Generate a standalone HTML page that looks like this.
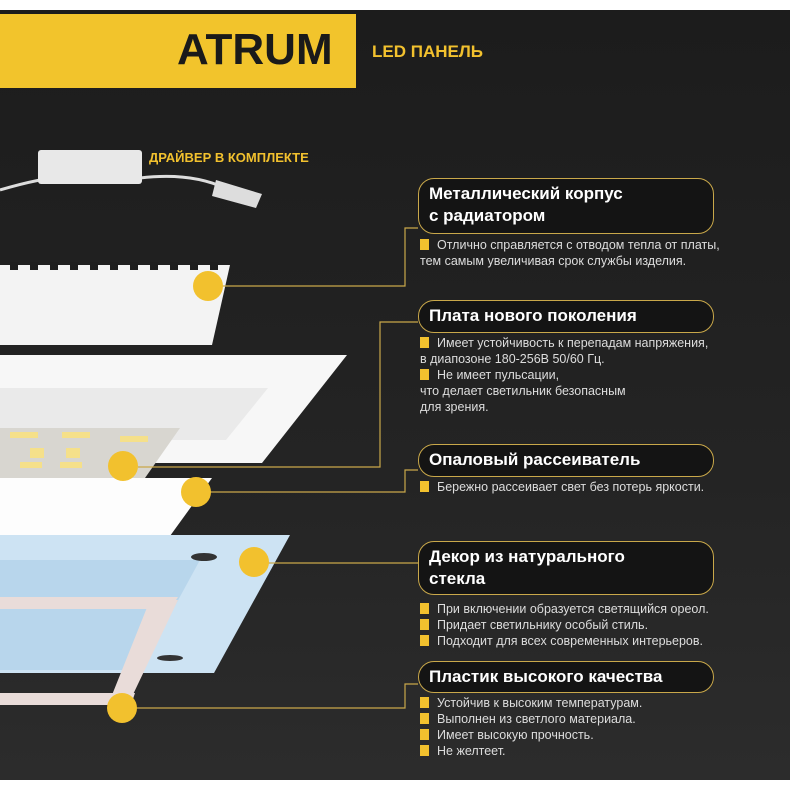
<!DOCTYPE html>
<html><head><meta charset="utf-8"><style>
body{margin:0;width:790px;height:790px;overflow:hidden;background:#fff;font-family:"Liberation Sans","DejaVu Sans",sans-serif}
.bg{position:absolute;left:0;top:10px;width:790px;height:770px;background:linear-gradient(180deg,#1c1c1c,#242424 60%,#2c2c2c)}
.box{position:absolute;left:418px;width:296px;border:1.5px solid #c9a84a;border-radius:16px;background:#141414;color:#fff;font-weight:bold;font-size:17px;line-height:22px;padding:4px 10px;box-sizing:border-box}
.t{position:absolute;left:420px;color:#ddd;font-size:12.5px;line-height:16px;white-space:nowrap}
.t i{display:inline-block;width:9px;height:11px;background:#f2c12e;margin-right:8px;vertical-align:-1px}
</style></head><body>
<div class="bg"></div>
<svg style="position:absolute;left:0;top:0" width="790" height="790">
<rect x="0" y="14" width="356" height="74" fill="#f2c42c"/>
<path d="M0,190 Q40,178 70,176 M140,178 Q190,172 225,188" stroke="#ddd" stroke-width="3" fill="none"/>
<rect x="38" y="150" width="104" height="34" rx="3" fill="#e8e8e8"/>
<path d="M216,180 l46,14 l-6,14 l-44,-12z" fill="#ddd"/>
<path d="M0,265 h230 l-18,80 h-212z" fill="#f3f3f3"/>
<g fill="#1e1e1e"><rect x="10" y="262" width="8" height="8"/><rect x="30" y="262" width="8" height="8"/><rect x="50" y="262" width="8" height="8"/><rect x="70" y="262" width="8" height="8"/><rect x="90" y="262" width="8" height="8"/><rect x="110" y="262" width="8" height="8"/><rect x="130" y="262" width="8" height="8"/><rect x="150" y="262" width="8" height="8"/><rect x="170" y="262" width="8" height="8"/><rect x="190" y="262" width="8" height="8"/><rect x="210" y="262" width="8" height="8"/></g>
<path d="M0,355 h347 l-85,108 h-262z" fill="#f7f7f7"/>
<path d="M0,388 h268 l-42,52 h-226z" fill="#eaeaea"/>
<path d="M0,428 h180 l-35,50 h-145z" fill="#d8d6d0"/>
<g fill="#f5e08a"><rect x="10" y="432" width="28" height="6"/><rect x="62" y="432" width="28" height="6"/><rect x="120" y="436" width="28" height="6"/><rect x="30" y="448" width="14" height="10"/><rect x="66" y="448" width="14" height="10"/><rect x="20" y="462" width="22" height="6"/><rect x="60" y="462" width="22" height="6"/></g>
<path d="M0,478 h212 l-42,58 h-170z" fill="#fdfdfd"/>
<path d="M0,535 h290 l-76,138 h-214z" fill="#cde3f3"/>
<path d="M0,560 h200 l-60,110 h-140z" fill="#b8d6ec"/>
<path d="M0,597 h178 l-8,12 h-170z M0,693 h135 l-4,12 h-131z M150,600 l28,0 l-50,105 l-20,0z" fill="#e9dcd9"/>
<ellipse cx="204" cy="557" rx="13" ry="4" fill="#333"/><ellipse cx="170" cy="658" rx="13" ry="3" fill="#333"/>
<g stroke="#c9a84a" stroke-width="1.2" fill="none">
<path d="M418,228 H405 V286 H222"/>
<path d="M418,322 H380 V467 H138"/>
<path d="M418,470 H405 V492 H210"/>
<path d="M418,563 H268"/>
<path d="M418,684 H405 V708 H136"/>
</g>
<g fill="#f2c12e"><circle cx="208" cy="286" r="15"/><circle cx="123" cy="466" r="15"/><circle cx="196" cy="492" r="15"/><circle cx="254" cy="562" r="15"/><circle cx="122" cy="708" r="15"/></g>
<rect x="0" y="780" width="790" height="10" fill="#fff"/>
</svg>
<div style="position:absolute;left:177px;top:25px;font-size:44px;font-weight:bold;color:#1a1a1a;letter-spacing:0px">ATRUM</div>
<div style="position:absolute;left:372px;top:42px;font-size:17px;font-weight:bold;color:#f2c12e">LED ПАНЕЛЬ</div>
<div style="position:absolute;left:149px;top:150px;font-size:13px;font-weight:bold;color:#f2c12e">ДРАЙВЕР В КОМПЛЕКТЕ</div>
<div class="box" style="top:178px;height:56px">Металлический корпус<br>с радиатором</div>
<div class="t" style="top:237px"><i></i>Отлично справляется с отводом тепла от платы,<br>тем самым увеличивая срок службы изделия.</div>
<div class="box" style="top:300px;height:33px;padding-top:4px">Плата нового поколения</div>
<div class="t" style="top:335px"><i></i>Имеет устойчивость к перепадам напряжения,<br>в диапозоне 180-256В 50/60 Гц.<br><i></i>Не имеет пульсации,<br>что делает светильник безопасным<br>для зрения.</div>
<div class="box" style="top:444px;height:33px">Опаловый рассеиватель</div>
<div class="t" style="top:479px"><i></i>Бережно рассеивает свет без потерь яркости.</div>
<div class="box" style="top:541px;height:54px">Декор из натурального<br>стекла</div>
<div class="t" style="top:601px"><i></i>При включении образуется светящийся ореол.<br><i></i>Придает светильнику особый стиль.<br><i></i>Подходит для всех современных интерьеров.</div>
<div class="box" style="top:661px;height:32px">Пластик высокого качества</div>
<div class="t" style="top:695px"><i></i>Устойчив к высоким температурам.<br><i></i>Выполнен из светлого материала.<br><i></i>Имеет высокую прочность.<br><i></i>Не желтеет.</div>
</body></html>
